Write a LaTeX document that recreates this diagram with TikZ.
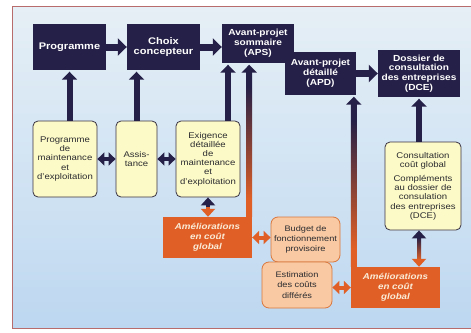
\documentclass[tikz,border=0pt]{standalone}
\usepackage{fontspec}
\setmainfont{Liberation Sans}[FakeStretch=1.15]
\usetikzlibrary{arrows.meta,calc}

\definecolor{navy}{HTML}{252047}
\definecolor{paleyel}{HTML}{FCFAC6}
\definecolor{yelline}{HTML}{3A3344}
\definecolor{inktext}{HTML}{2B2B30}
\definecolor{orng}{HTML}{DF5F26}
\definecolor{peach}{HTML}{F8C9A2}
\definecolor{peachline}{HTML}{D9773E}
\definecolor{framecol}{HTML}{B86C6C}
\definecolor{cream}{HTML}{FBECD8}
\definecolor{skyA}{HTML}{A7CAEE}
\definecolor{skyB}{HTML}{CADFF2}
\definecolor{skyC}{HTML}{E0ECF5}
\definecolor{skyD}{HTML}{F0F3F4}
\definecolor{skyE}{HTML}{F7F6F1}

% sky background, bottom to top
\pgfdeclareverticalshading{skyfade}{100bp}{%
  color(0bp)=(skyA); color(40bp)=(skyB); color(68bp)=(skyC);
  color(85bp)=(skyD); color(100bp)=(skyE)}
% connector shaft turning from navy (top) to orange (bottom)
\pgfdeclareverticalshading{fadeline}{100bp}{%
  color(0bp)=(orng); color(31bp)=(orng); color(70bp)=(navy); color(100bp)=(navy)}

\begin{document}
\begin{tikzpicture}[x=1pt,y=-1pt,
  darkbox/.style={fill=navy, text=white, align=center, inner sep=1pt,
    font=\bfseries\fontsize{8.8}{9.8}\selectfont},
  bigbox/.style={darkbox, minimum width=73pt, minimum height=46pt,
    font=\bfseries\fontsize{9.6}{10.2}\selectfont},
  yelbox/.style={fill=paleyel, draw=yelline, line width=0.8pt, rounded corners=5pt,
    align=center, inner sep=1pt, minimum height=76pt, text=inktext,
    font=\fontsize{8.3}{9.2}\selectfont},
  orbox/.style={fill=orng, text=cream, align=center, inner sep=1pt,
    minimum width=89pt, minimum height=41pt,
    font=\bfseries\itshape\fontsize{8.5}{10}\selectfont},
  peachbox/.style={fill=peach, draw=peachline, line width=0.8pt, rounded corners=7pt,
    align=center, inner sep=1pt, minimum width=70pt, minimum height=46pt, text=inktext,
    font=\fontsize{8}{10.2}\selectfont},
  fatarrow/.style={navy, line width=7pt, -{Triangle[width=17pt,length=9pt]}},
  uparrow/.style={navy, line width=6pt, shorten >=1.5pt, -{Triangle[width=15pt,length=8pt]}},
  dblarrow/.style={line width=4pt, {Triangle[width=13pt,length=7pt]}-{Triangle[width=13pt,length=7pt]}},
  halfhead/.style={line width=4pt, -{Triangle[width=14pt,length=8pt]}}
]
\useasboundingbox (0,0) rectangle (471,332);
\fill[white] (0,0) rectangle (471,332);
\shade[shading=skyfade] (12,6) rectangle (471,328);
\draw[framecol, line width=0.8pt] (471,6) -- (12,6) -- (12,328) -- (471,328);

% project stages
\node[bigbox] (prog) at (69.5,47) {Programme};
\node[bigbox] (choix) at (163.5,47) {Choix\\concepteur};
\node[darkbox, minimum width=72pt, minimum height=39pt] (aps) at (258,43.5)
  {Avant-projet\\sommaire\\(APS)};
\node[darkbox, minimum width=71pt, minimum height=43pt] (apd) at (320.5,73.5)
  {Avant-projet\\détaillé\\(APD)};
\node[darkbox, minimum width=82pt, minimum height=47pt] (dce) at (419,73.5)
  {Dossier de\\consultation\\des entreprises\\(DCE)};

% inputs
\node[yelbox, minimum width=64pt] (y1) at (65,159)
  {Programme\\de\\maintenance\\et\\d'exploitation};
\node[yelbox, minimum width=41pt] (y2) at (136.5,159) {Assis-\\tance};
\node[yelbox, minimum width=64pt] (y3) at (208,159)
  {Exigence\\détaillée\\de\\maintenance\\et\\d'exploitation};
\node[yelbox, minimum width=76pt, minimum height=88pt] (y4) at (423,186)
  {Consultation\\coût global\\[5pt]Compléments\\au dossier de\\consulation\\des entreprises\\(DCE)};

% global cost improvements
\node[orbox] (o1) at (207.5,237.5) {Améliorations\\en coût\\global};
\node[orbox] (o2) at (395.5,287.5) {Améliorations\\en coût\\global};
\node[peachbox, minimum width=69pt, minimum height=45pt] (budget) at (305.5,239.5)
  {Budget de\\fonctionnement\\provisoire};
\node[peachbox] (estim) at (297,285) {Estimation\\des coûts\\différés};

% stage sequence
\draw[fatarrow] (prog.east) -- (choix.west);
\draw[fatarrow] (choix.east) -- (choix.east -| aps.west);
\draw[fatarrow] (apd.east) -- (dce.west);

% inputs feeding the stages
\draw[uparrow] (prog.south |- y1.north) -- (prog.south);
\draw[uparrow] (y2.north) -- (y2.north |- choix.south);
\coordinate (y3up) at ($(y3.north)+(20,0)$);
\draw[uparrow] (y3up) -- (y3up |- aps.south);
\draw[uparrow] (dce.south |- y4.north) -- (dce.south);

% long connectors from the improvement boxes
\coordinate (l1b) at ($(o1.north east)+(-3,0)$);
\coordinate (l1t) at (l1b |- aps.south);
\draw[uparrow] (l1b) -- (l1t);
\shade[shading=fadeline] ($(l1t)+(-3,9)$) rectangle ($(l1b)+(3,0)$);

\coordinate (l2b) at ($(o2.north west)+(3,0)$);
\coordinate (l2t) at (l2b |- apd.south);
\draw[uparrow] (l2b) -- (l2t);
\shade[shading=fadeline] ($(l2t)+(-3,9)$) rectangle ($(l2b)+(3,0)$);

% exchanges between neighbouring boxes
\draw[dblarrow, navy] (y1.east) -- (y2.west);
\draw[dblarrow, navy] (y2.east) -- (y3.west);
\draw[dblarrow, orng] (o1.east) -- (o1.east -| budget.west);
\draw[dblarrow, orng] (o2.west -| estim.east) -- (o2.west);

\coordinate (m1) at ($(y3.south)!0.5!(y3.south |- o1.north)$);
\draw[halfhead, navy] (m1) -- (y3.south);
\draw[halfhead, orng] (m1) -- (m1 |- o1.north);

\coordinate (d4t) at (dce.south |- y4.south);
\coordinate (d4b) at (dce.south |- o2.north);
\shade[top color=navy, bottom color=orng] ($(d4t)+(-2,7)$) rectangle ($(d4b)+(2,-7)$);
\draw[halfhead, navy] ($(d4t)+(0,8)$) -- (d4t);
\draw[halfhead, orng] ($(d4b)+(0,-8)$) -- (d4b);
\end{tikzpicture}
\end{document}
